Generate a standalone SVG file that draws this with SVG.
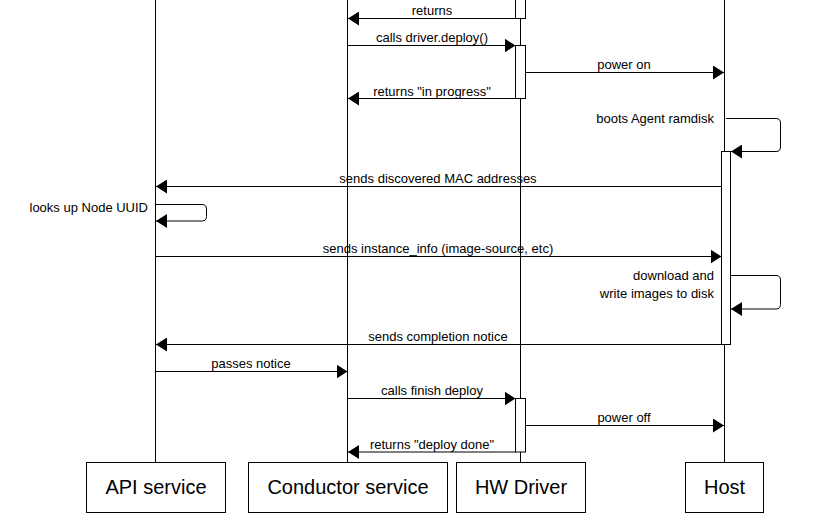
<svg xmlns="http://www.w3.org/2000/svg" width="815" height="519" viewBox="0 0 815 519">
<style>
.life{stroke:#000;stroke-width:1;fill:none}
.msg{stroke:#000;stroke-width:1;fill:none}
.bar{fill:#fff;stroke:#000;stroke-width:1}
.box{fill:#fff;stroke:#000;stroke-width:1}
.lbl{font-family:"Liberation Sans",Arial,sans-serif;font-size:13px;fill:#000}
.c{text-anchor:middle}
.r{text-anchor:end}
.title{font-family:"Liberation Sans",Arial,sans-serif;font-size:20px;fill:#000;text-anchor:middle}
</style>
<defs>
<marker id="ah" markerWidth="11" markerHeight="14" refX="11" refY="7" orient="auto" markerUnits="userSpaceOnUse">
<path d="M0,0 L11,7 L0,14 Z" fill="#000"/>
</marker>
</defs>
<rect width="815" height="519" fill="#fff"/>
<g id="lifelines">
<line class="life" x1="155.5" y1="0" x2="155.5" y2="462"/>
<line class="life" x1="347.5" y1="0" x2="347.5" y2="462"/>
<line class="life" x1="520.5" y1="0" x2="520.5" y2="462"/>
<line class="life" x1="724.5" y1="0" x2="724.5" y2="462"/>
</g>
<g id="activations">
<rect class="bar" x="515.5" y="-1" width="10" height="19.5"/>
<rect class="bar" x="515.5" y="45.5" width="10" height="53"/>
<rect class="bar" x="721.5" y="151.5" width="9" height="193"/>
<rect class="bar" x="515.5" y="398.5" width="10" height="53.5"/>
</g>
<g id="connectors">
<line class="msg" x1="515.5" y1="18.5" x2="348" y2="18.5" marker-end="url(#ah)"/>
<line class="msg" x1="348" y1="45.5" x2="515.5" y2="45.5" marker-end="url(#ah)"/>
<line class="msg" x1="525.5" y1="72.5" x2="724" y2="72.5" marker-end="url(#ah)"/>
<line class="msg" x1="515.5" y1="98.5" x2="348" y2="98.5" marker-end="url(#ah)"/>
<path class="msg" d="M726,118.5 H776 Q780.5,118.5 780.5,123 V147 Q780.5,151.5 776,151.5 H731" marker-end="url(#ah)"/>
<line class="msg" x1="721.5" y1="186.5" x2="156" y2="186.5" marker-end="url(#ah)"/>
<path class="msg" d="M156,204.5 H202 Q206.5,204.5 206.5,209 V216.5 Q206.5,221 202,221 H156" marker-end="url(#ah)"/>
<line class="msg" x1="156" y1="256.5" x2="721.5" y2="256.5" marker-end="url(#ah)"/>
<path class="msg" d="M731,275.5 H776 Q780.5,275.5 780.5,280 V304.5 Q780.5,309 776,309 H731" marker-end="url(#ah)"/>
<line class="msg" x1="721.5" y1="344.5" x2="156" y2="344.5" marker-end="url(#ah)"/>
<line class="msg" x1="156" y1="371.5" x2="347.5" y2="371.5" marker-end="url(#ah)"/>
<line class="msg" x1="348" y1="398.5" x2="515.5" y2="398.5" marker-end="url(#ah)"/>
<line class="msg" x1="525.5" y1="425.5" x2="724" y2="425.5" marker-end="url(#ah)"/>
<line class="msg" x1="515.5" y1="452" x2="348" y2="452" marker-end="url(#ah)"/>
</g>
<g id="labels">
<text class="lbl c" x="432" y="15">returns</text>
<text class="lbl c" x="432" y="42">calls driver.deploy()</text>
<text class="lbl c" x="624" y="69">power on</text>
<text class="lbl c" x="432" y="96">returns "in progress"</text>
<text class="lbl r" x="714" y="123">boots Agent ramdisk</text>
<text class="lbl c" x="438" y="183">sends discovered MAC addresses</text>
<text class="lbl r" x="148" y="212">looks up Node UUID</text>
<text class="lbl c" x="438" y="253">sends instance_info (image-source, etc)</text>
<text class="lbl r" x="714" y="280">download and</text>
<text class="lbl r" x="714" y="298">write images to disk</text>
<text class="lbl c" x="438" y="341">sends completion notice</text>
<text class="lbl c" x="251" y="368">passes notice</text>
<text class="lbl c" x="432" y="395">calls finish deploy</text>
<text class="lbl c" x="624" y="422">power off</text>
<text class="lbl c" x="432" y="449">returns "deploy done"</text>
</g>
<g id="node-api">
<rect class="box" x="86.5" y="462.5" width="139" height="50"/>
<text class="title" x="156" y="494">API service</text>
</g>
<g id="node-conductor">
<rect class="box" x="248.5" y="462.5" width="199" height="50"/>
<text class="title" x="348" y="494">Conductor service</text>
</g>
<g id="node-hwdriver">
<rect class="box" x="456.5" y="462.5" width="129" height="50"/>
<text class="title" x="521" y="494">HW Driver</text>
</g>
<g id="node-host">
<rect class="box" x="685.5" y="462.5" width="78" height="50"/>
<text class="title" x="724.5" y="494">Host</text>
</g>
</svg>
